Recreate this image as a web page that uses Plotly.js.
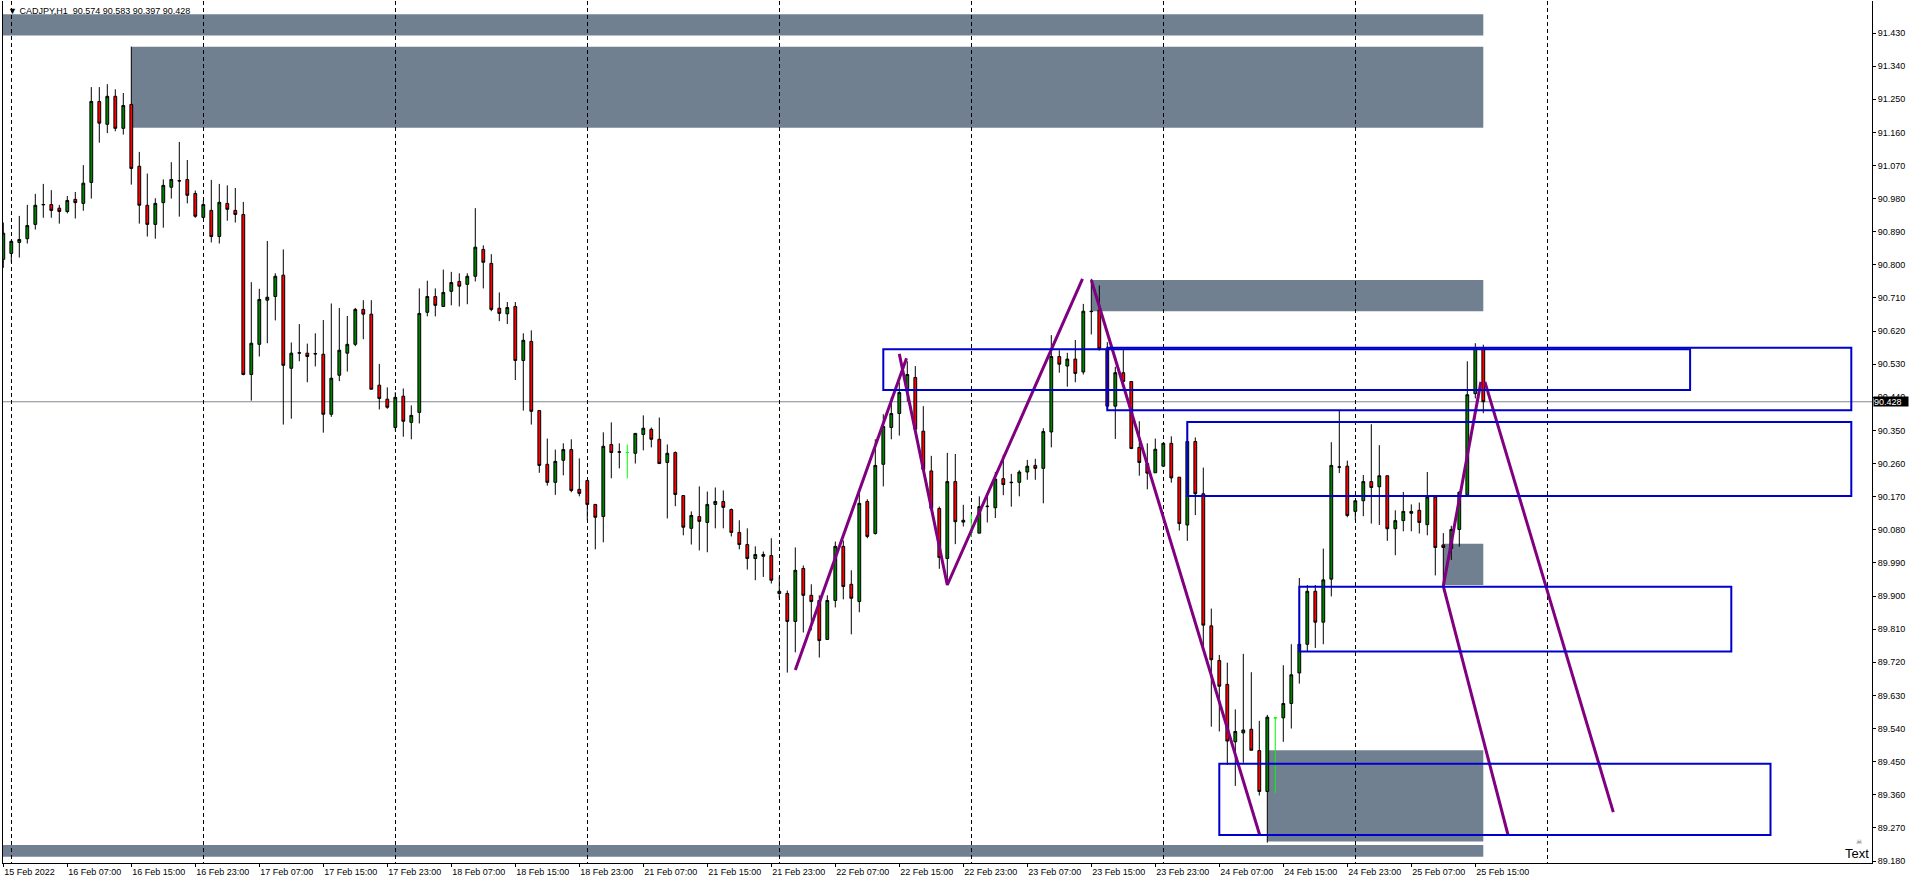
<!DOCTYPE html>
<html><head><meta charset="utf-8">
<script src="https://cdn.plot.ly/plotly-3.0.1.min.js"></script>
<style>html,body{margin:0;padding:0;background:#fff;overflow:hidden}#chart{width:1912px;height:885px}</style>
</head><body><div id="chart"></div>
<script>
// CADJPY H1 bars, index 0 = 15 Feb 2022 23:00
const opens = [90.815,90.831,90.861,90.871,90.910,90.963,90.964,90.954,90.945,90.978,
90.967,91.024,91.244,91.182,91.258,91.171,91.236,91.068,90.962,90.910,
90.969,91.011,91.029,91.032,90.994,90.929,90.948,90.877,90.967,90.948,
90.937,90.502,90.584,90.704,90.714,90.772,90.519,90.560,90.560,90.559,
90.557,90.394,90.500,90.560,90.584,90.679,90.666,90.473,90.435,90.358,
90.443,90.372,90.399,90.671,90.714,90.687,90.728,90.755,90.747,90.769,
90.842,90.804,90.682,90.667,90.687,90.540,90.592,90.404,90.258,90.209,
90.269,90.298,90.190,90.214,90.149,90.116,90.312,90.292,90.290,90.288,
90.339,90.353,90.326,90.263,90.290,90.173,90.084,90.116,90.100,90.149,
90.157,90.135,90.073,90.040,90.002,90.013,90.010,89.907,89.907,89.831,
89.975,89.902,89.888,89.782,89.888,90.035,89.932,89.885,90.157,90.070,
90.258,90.358,90.396,90.457,90.494,90.348,90.240,90.138,90.002,90.211,
90.101,90.073,90.071,90.143,90.140,90.219,90.208,90.209,90.237,90.255,
90.247,90.346,90.551,90.525,90.544,90.509,90.674,90.677,90.572,90.416,
90.507,90.483,90.304,90.260,90.235,90.253,90.315,90.223,90.093,90.320,
90.178,89.819,89.725,89.660,89.504,89.528,89.538,89.480,89.369,89.569,
89.569,89.608,89.691,89.769,89.913,89.829,89.946,90.250,90.253,90.130,
90.159,90.211,90.197,90.227,90.083,90.105,90.130,90.133,90.094,90.169,
90.039,90.029,90.081,90.175,90.450,90.574];
const highs = [90.915,90.866,90.933,90.963,90.993,91.020,91.003,90.963,90.987,90.998,
91.071,91.283,91.283,91.291,91.277,91.267,91.393,91.107,91.048,90.981,
91.032,91.079,91.134,91.085,91.002,90.975,91.031,91.020,91.016,91.009,
90.971,90.753,90.735,90.865,90.777,90.842,90.589,90.639,90.586,90.614,
90.650,90.695,90.683,90.661,90.683,90.704,90.704,90.531,90.467,90.454,
90.464,90.418,90.736,90.757,90.736,90.787,90.781,90.777,90.777,90.954,
90.853,90.829,90.725,90.699,90.699,90.614,90.622,90.404,90.328,90.298,
90.315,90.326,90.274,90.214,90.149,90.345,90.372,90.315,90.312,90.342,
90.391,90.358,90.385,90.312,90.293,90.173,90.130,90.198,90.184,90.195,
90.187,90.138,90.106,90.084,90.035,90.021,90.057,89.953,89.915,90.032,
89.983,89.932,89.902,89.902,90.048,90.051,89.970,90.184,90.163,90.326,
90.394,90.440,90.481,90.538,90.525,90.416,90.281,90.143,90.289,90.286,
90.148,90.123,90.171,90.174,90.237,90.284,90.232,90.242,90.270,90.273,
90.356,90.609,90.568,90.561,90.596,90.694,90.762,90.744,90.590,90.523,
90.570,90.483,90.375,90.315,90.328,90.315,90.334,90.223,90.372,90.331,
90.249,89.866,89.740,89.719,89.592,89.743,89.693,89.561,89.577,89.571,
89.712,89.769,89.949,89.930,89.930,90.029,90.318,90.405,90.268,90.159,
90.229,90.367,90.310,90.227,90.133,90.183,90.149,90.154,90.237,90.169,
90.071,90.091,90.185,90.538,90.587,90.583];
const lows = [90.792,90.806,90.820,90.858,90.896,90.928,90.928,90.912,90.940,90.926,
90.947,90.980,91.132,91.158,91.163,91.154,91.018,90.912,90.877,90.871,
90.901,90.980,90.931,90.967,90.928,90.926,90.861,90.858,90.920,90.915,
90.500,90.431,90.551,90.587,90.649,90.366,90.382,90.538,90.481,90.524,
90.344,90.387,90.484,90.510,90.579,90.598,90.462,90.407,90.409,90.349,
90.333,90.326,90.369,90.660,90.660,90.687,90.690,90.687,90.693,90.755,
90.736,90.674,90.647,90.639,90.487,90.404,90.366,90.235,90.200,90.175,
90.228,90.182,90.171,90.106,90.027,90.046,90.220,90.247,90.220,90.260,
90.296,90.304,90.260,90.111,90.144,90.065,90.040,90.024,90.019,90.084,
90.084,90.062,90.027,89.972,89.943,89.952,89.934,89.894,89.692,89.747,
89.801,89.807,89.733,89.782,89.869,89.891,89.796,89.856,90.057,90.067,
90.198,90.326,90.336,90.429,90.345,90.240,90.133,89.974,89.935,90.041,
90.089,90.060,90.071,90.100,90.112,90.174,90.143,90.171,90.216,90.216,
90.152,90.304,90.507,90.469,90.481,90.502,90.611,90.567,90.405,90.327,
90.483,90.299,90.227,90.190,90.235,90.253,90.208,90.078,90.050,90.120,
89.759,89.545,89.532,89.441,89.384,89.447,89.481,89.358,89.230,89.364,
89.504,89.540,89.662,89.748,89.759,89.769,89.899,90.234,90.114,90.107,
90.117,90.097,90.093,90.050,90.011,90.076,90.076,90.070,90.065,89.956,
89.930,89.998,90.034,90.175,90.437,90.397];
const closes = [90.886,90.864,90.869,90.907,90.962,90.964,90.948,90.945,90.975,90.969,
91.022,91.244,91.185,91.258,91.171,91.233,91.062,90.962,90.910,90.967,
91.016,91.032,91.028,90.989,90.932,90.964,90.877,90.970,90.951,90.937,
90.502,90.587,90.706,90.712,90.769,90.527,90.560,90.561,90.551,90.558,
90.394,90.492,90.568,90.584,90.679,90.666,90.462,90.437,90.413,90.440,
90.375,90.391,90.668,90.714,90.690,90.725,90.752,90.742,90.769,90.848,
90.807,90.679,90.668,90.684,90.540,90.595,90.402,90.255,90.209,90.266,
90.298,90.187,90.179,90.149,90.114,90.307,90.290,90.291,90.290,90.342,
90.356,90.326,90.260,90.288,90.176,90.087,90.119,90.103,90.149,90.157,
90.141,90.073,90.040,90.002,90.013,90.008,89.943,89.913,89.831,89.970,
89.902,89.885,89.779,89.888,90.035,89.926,89.894,90.152,90.062,90.255,
90.361,90.396,90.453,90.502,90.353,90.244,90.138,90.005,90.211,90.102,
90.106,90.073,90.143,90.144,90.218,90.203,90.209,90.237,90.253,90.247,
90.347,90.551,90.530,90.544,90.505,90.674,90.673,90.572,90.416,90.507,
90.483,90.301,90.263,90.234,90.299,90.315,90.221,90.097,90.320,90.178,
89.821,89.727,89.655,89.506,89.532,89.536,89.481,89.369,89.571,89.569,
89.608,89.686,89.769,89.913,89.829,89.944,90.255,90.251,90.119,90.159,
90.211,90.195,90.227,90.083,90.105,90.130,90.125,90.100,90.169,90.032,
90.032,90.081,90.182,90.447,90.575,90.428];
// bars whose open equals close (drawn in the line colour)
const dojiBars = [78,121,159];

const tickBars = [0,8,16,24,32,40,48,56,64,72,80,88,96,104,112,120,128,136,144,152,160,168,176,184];
const tickLabels = ['15 Feb 2022','16 Feb 07:00','16 Feb 15:00','16 Feb 23:00','17 Feb 07:00','17 Feb 15:00',
'17 Feb 23:00','18 Feb 07:00','18 Feb 15:00','18 Feb 23:00','21 Feb 07:00','21 Feb 15:00','21 Feb 23:00',
'22 Feb 07:00','22 Feb 15:00','22 Feb 23:00','23 Feb 07:00','23 Feb 15:00','23 Feb 23:00','24 Feb 07:00',
'24 Feb 15:00','24 Feb 23:00','25 Feb 07:00','25 Feb 15:00'];
const dayStartBars = [1,25,49,73,97,121,145,169,193];
const priceTicks = [89.180,89.270,89.360,89.450,89.540,89.630,89.720,89.810,89.900,89.990,90.080,90.170,
90.260,90.350,90.440,90.530,90.620,90.710,90.800,90.890,90.980,91.070,91.160,91.250,91.340,91.430];

// filled zones (start bar, end bar, top price, bottom price)
const zoneStart = [-5,16,136,180,158,-5];
const zoneEnd = [185,185,185,185,185,185];
const zoneTop = [91.481,91.393,90.759,90.042,89.481,89.2235];
const zoneBottom = [91.4235,91.1727,90.674,89.930,89.233,89.1917];

// outlined boxes
const boxStart = [110,138,148,162,152];
const boxEnd = [210.85,231,231,216,220.9];
const boxTop = [90.5705,90.575,90.373,89.925,89.444];
const boxBottom = [90.460,90.405,90.172,89.749,89.251];

// zigzag trend lines (bar, price), null separates segments
const zigBar = [99,112.9,null,112,118,134.9,null,136,157.04,null,180,184.7,null,185.2,201.25,null,180,188.1];
const zigPrice = [89.699,90.546,null,90.558,89.930,90.762,null,90.759,89.2515,null,89.927,90.482,null,90.482,89.313,null,89.927,89.250];

const symbol = 'CADJPY,H1';

const mainIdx = [], dojiIdx = [];
for (let i = 0; i < opens.length; i++) (dojiBars.includes(i) ? dojiIdx : mainIdx).push(i);
const pick = (arr, idx) => idx.map(i => arr[i]);
const last = opens.length - 1;

const traces = [
  {type:'candlestick', x:mainIdx, open:pick(opens,mainIdx), high:pick(highs,mainIdx), low:pick(lows,mainIdx), close:pick(closes,mainIdx),
   increasing:{line:{color:'#000000',width:1}, fillcolor:'#008000'},
   decreasing:{line:{color:'#000000',width:1}, fillcolor:'#FF0000'},
   whiskerwidth:0, hoverinfo:'skip', showlegend:false},
  {type:'candlestick', x:dojiIdx, open:pick(opens,dojiIdx), high:pick(highs,dojiIdx), low:pick(lows,dojiIdx), close:pick(closes,dojiIdx),
   increasing:{line:{color:'#00FF00',width:1}, fillcolor:'#00FF00'},
   decreasing:{line:{color:'#00FF00',width:1}, fillcolor:'#00FF00'},
   whiskerwidth:0, hoverinfo:'skip', showlegend:false},
  {type:'scatter', mode:'lines', x:zigBar, y:zigPrice, connectgaps:false,
   line:{color:'#800080', width:3}, hoverinfo:'skip', showlegend:false}
];

const shapes = [];
shapes.push({type:'line', xref:'paper', x0:0, x1:1, yref:'y', y0:closes[last], y1:closes[last],
  line:{color:'rgb(128,136,144)', width:1}, layer:'below'});
for (let k = 0; k < zoneStart.length; k++) {
  shapes.push({type:'rect', xref:'x', yref:'y', x0:zoneStart[k], x1:zoneEnd[k], y0:zoneBottom[k], y1:zoneTop[k],
    fillcolor:'#708090', line:{width:0}, layer:'below'});
}
for (let k = 0; k < boxStart.length; k++) {
  shapes.push({type:'rect', xref:'x', yref:'y', x0:boxStart[k], x1:boxEnd[k], y0:boxBottom[k], y1:boxTop[k],
    fillcolor:'rgba(0,0,0,0)', line:{color:'#0000CD', width:2}, layer:'above'});
}

const f3 = v => v.toFixed(3);
const font = {family:'Liberation Sans, Arial, sans-serif', size:9, color:'#000000'};

const layout = {
  width:1912, height:885,
  margin:{l:3, r:40, t:1, b:22, pad:0},
  paper_bgcolor:'#ffffff', plot_bgcolor:'#ffffff',
  showlegend:false, hovermode:false, boxgap:0.5,
  font:font,
  xaxis:{type:'linear', range:[-0.0375, 233.5875], fixedrange:true,
    rangeslider:{visible:false},
    tickmode:'array', tickvals:tickBars, ticktext:tickLabels,
    ticks:'outside', ticklen:3, tickwidth:1, tickcolor:'#000000',
    ticklabelposition:'outside right', tickfont:font,
    showgrid:false, zeroline:false, showline:true, linecolor:'#000000', linewidth:1,
    minor:{tickmode:'array', tickvals:dayStartBars, showgrid:true, gridcolor:'#000000', gridwidth:1, griddash:'4px,3px', ticks:''}},
  yaxis:{type:'linear', range:[89.1746, 91.5170], fixedrange:true, side:'right',
    tickmode:'array', tickvals:priceTicks, ticktext:priceTicks.map(f3),
    ticks:'outside', ticklen:3, tickwidth:1, tickcolor:'#000000', tickfont:font,
    showgrid:false, zeroline:false, showline:true, mirror:true, linecolor:'#000000', linewidth:1},
  shapes:shapes,
  annotations:[
    {xref:'paper', yref:'paper', x:0, y:1, xanchor:'left', yanchor:'top', xshift:3, yshift:-3, showarrow:false,
     text:'▼ ' + symbol + '  ' + [opens[last],highs[last],lows[last],closes[last]].map(f3).join(' '),
     font:{family:'Liberation Sans, Arial, sans-serif', size:9, color:'#000000'}},
    {xref:'paper', yref:'y', x:1, y:closes[last], xanchor:'left', yanchor:'middle', xshift:1, showarrow:false,
     text:f3(closes[last]), bgcolor:'#000000', borderpad:0, width:34, height:9, align:'left',
     font:{family:'Liberation Sans, Arial, sans-serif', size:9, color:'#ffffff'}},
    {xref:'paper', yref:'paper', x:1, y:0, xanchor:'right', yanchor:'bottom', xshift:-1, yshift:0, showarrow:false,
     text:'Text', font:{family:'Liberation Sans, Arial, sans-serif', size:13, color:'#000000'}},
    {xref:'paper', yref:'paper', x:1, y:0, xanchor:'center', yanchor:'bottom', xshift:-13, yshift:15, showarrow:false,
     text:'☠', font:{family:'DejaVu Sans, sans-serif', size:7, color:'#555555'}}
  ]
};

Plotly.newPlot('chart', traces, layout, {staticPlot:true, displayModeBar:false});
</script>
</body></html>
